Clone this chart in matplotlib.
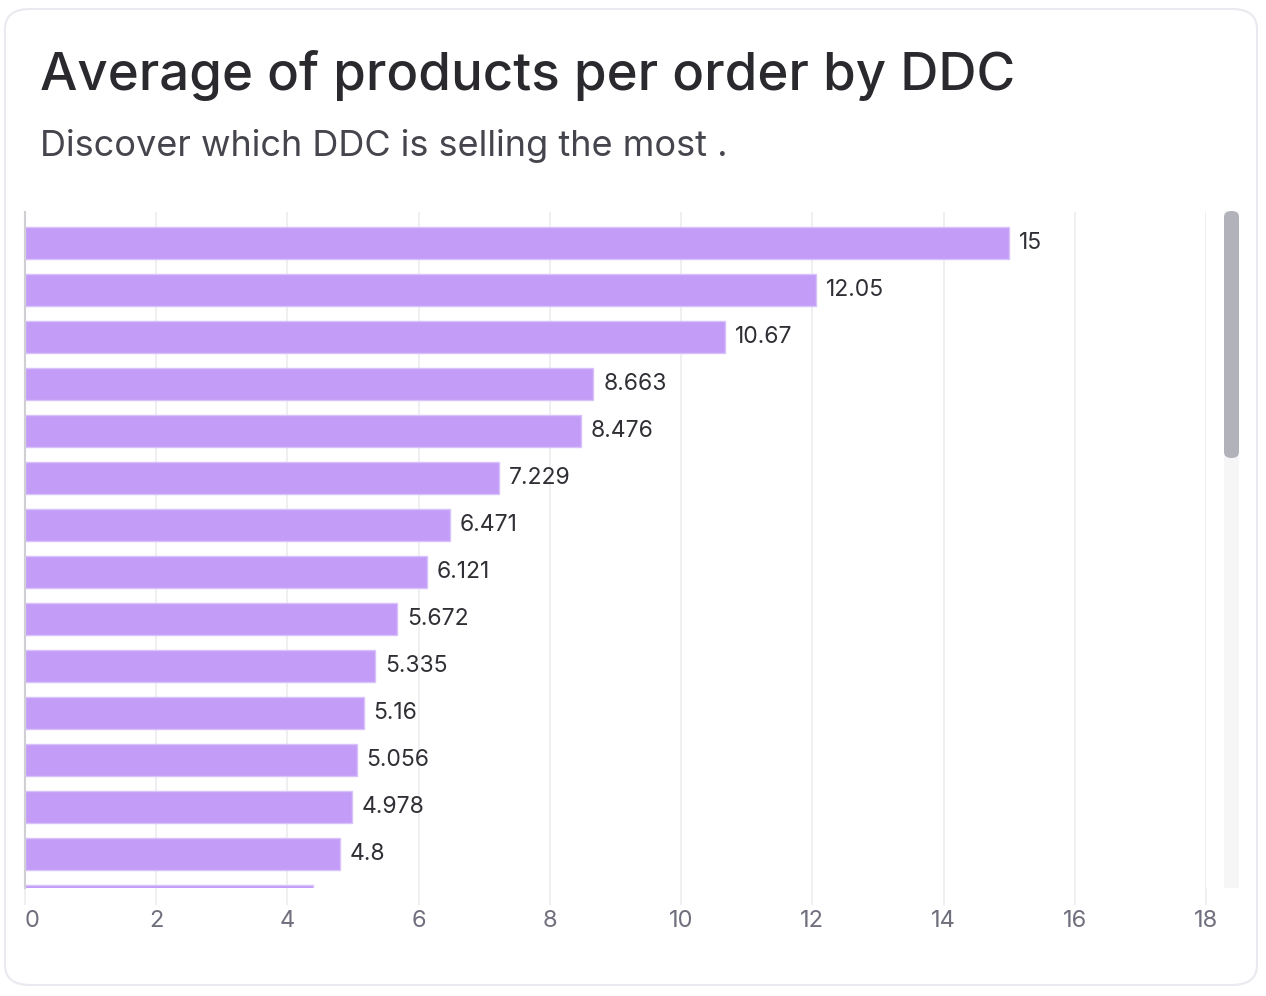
import matplotlib
matplotlib.use("Agg")
import matplotlib.pyplot as plt
from matplotlib.patches import FancyBboxPatch

plt.rcParams['font.family'] = ['Inter', 'DejaVu Sans']

# values (last bar is cut off by the scroll area)
values = [15, 12.05, 10.67, 8.663, 8.476, 7.229, 6.471, 6.121, 5.672, 5.335,
          5.16, 5.056, 4.978, 4.8, 4.39]
x_ticks = [0, 2, 4, 6, 8, 10, 12, 14, 16, 18]

title = "Average of products per order by DDC"
subtitle = "Discover which DDC is selling the most ."

W, H = 1266, 996
fig = plt.figure(figsize=(W / 100, H / 100), dpi=100)
fig.patch.set_facecolor("white")

# card outline
card = FancyBboxPatch((5 / W, 11 / H), 1252 / W, 976 / H,
                      boxstyle="round,pad=0,rounding_size=0.02",
                      transform=fig.transFigure, facecolor="white",
                      edgecolor="#e9e9ef", linewidth=1.5, zorder=-10)
fig.patches.append(card)

fig.text(40 / W, 1 - 90 / H, title, fontsize=38, fontweight="medium",
         color="#2a2a2e", va="baseline")
fig.text(40 / W, 1 - 156 / H, subtitle, fontsize=26, color="#45454d",
         va="baseline")

left, right, top, bottom = 25, 1206, 212, 888
ax = fig.add_axes([left / W, 1 - bottom / H, (right - left) / W, (bottom - top) / H])
ax.set_facecolor("none")

ys = list(range(len(values)))
ax.barh(ys, values, height=0.68, color="#c39cf8", edgecolor="#d9c2fb",
        linewidth=1, zorder=2)
for y, v in zip(ys, values):
    ax.text(v + 0.15, y, f"{v:g}", va="center", ha="left", fontsize=16.5,
            color="#2f2f35", zorder=3, clip_on=True)

ax.set_xlim(0, 18)
ax.set_ylim(13.72, -0.66)
ax.set_xticks(x_ticks)
ax.set_xticklabels([str(t) for t in x_ticks])
ax.get_xticklabels()[0].set_ha("left")
ax.set_yticks([])
ax.grid(axis="x", color="#ececef", linewidth=1.2, zorder=0)
for s in ["top", "right", "bottom"]:
    ax.spines[s].set_visible(False)
ax.spines["left"].set_color("#cfcfd4")
ax.spines["left"].set_linewidth(1.5)
ax.tick_params(axis="x", length=12, color="#ececef", width=1.2,
               labelsize=17, labelcolor="#6f6f7d", pad=4)

# scrollbar
track = FancyBboxPatch((1224 / W, 1 - 888 / H), 15 / W, (888 - 211) / H,
                       boxstyle="square,pad=0", transform=fig.transFigure,
                       facecolor="#f6f6f7", edgecolor="none")
thumb = FancyBboxPatch((1224 / W, 1 - 458 / H), 15 / W, (458 - 211) / H,
                       boxstyle="round,pad=0,rounding_size=0.006",
                       transform=fig.transFigure, facecolor="#b2b2ba",
                       edgecolor="none")
fig.patches.extend([track, thumb])

fig.savefig("out.png", dpi=100)
